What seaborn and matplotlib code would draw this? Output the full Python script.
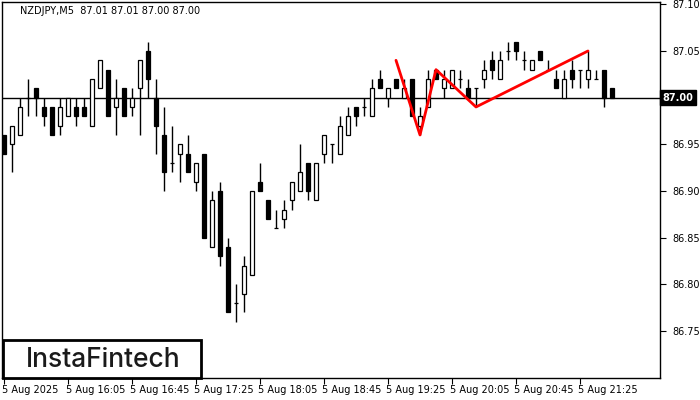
import matplotlib
matplotlib.use("Agg")
import matplotlib.pyplot as plt
import matplotlib.transforms as mtransforms
import seaborn as sns
import numpy as np
import pandas as pd

# ---- data (NZDJPY, M5) ----
opens = [86.96, 86.95, 86.96, 87.00, 87.01, 86.99, 86.99, 86.97, 86.98, 86.99,
         86.99, 86.97, 87.01, 87.03, 86.99, 87.01, 86.99, 87.01, 87.05, 87.00,
         86.96, 86.93, 86.94, 86.94, 86.91, 86.94, 86.84, 86.90, 86.84, 86.78,
         86.79, 86.81, 86.91, 86.89, 86.86, 86.87, 86.89, 86.90, 86.93, 86.89,
         86.94, 86.95, 86.94, 86.96, 86.99, 86.99, 86.98, 87.02, 87.00, 87.02,
         87.00, 87.02, 86.97, 86.99, 87.03, 87.01, 87.01, 87.02, 87.01, 87.01,
         87.02, 87.04, 87.02, 87.05, 87.06, 87.04, 87.03, 87.05, 87.03, 87.02,
         87.00, 87.03, 87.03, 87.02, 87.02, 87.03, 87.01]
highs = [86.96, 86.97, 87.00, 87.02, 87.01, 87.00, 86.99, 87.00, 87.00, 87.00,
         87.00, 87.02, 87.04, 87.03, 87.02, 87.01, 87.01, 87.04, 87.06, 87.02,
         86.99, 86.97, 86.95, 86.96, 86.93, 86.94, 86.90, 86.91, 86.85, 86.80,
         86.83, 86.90, 86.93, 86.89, 86.88, 86.89, 86.91, 86.95, 86.93, 86.93,
         86.96, 86.95, 86.98, 86.99, 86.99, 87.00, 87.02, 87.03, 87.01, 87.02,
         87.02, 87.02, 86.99, 87.03, 87.03, 87.03, 87.03, 87.03, 87.02, 87.01,
         87.04, 87.05, 87.05, 87.06, 87.06, 87.05, 87.04, 87.05, 87.04, 87.03,
         87.03, 87.04, 87.03, 87.05, 87.03, 87.03, 87.01]
lows = [86.94, 86.92, 86.96, 86.98, 86.98, 86.97, 86.96, 86.96, 86.98, 86.97,
        86.98, 86.97, 87.01, 86.98, 86.96, 86.98, 86.98, 86.96, 87.00, 86.94,
        86.90, 86.92, 86.91, 86.92, 86.90, 86.85, 86.84, 86.82, 86.77, 86.76,
        86.77, 86.81, 86.90, 86.87, 86.86, 86.86, 86.88, 86.90, 86.89, 86.89,
        86.93, 86.93, 86.94, 86.96, 86.97, 86.98, 86.98, 87.01, 86.99, 87.01,
        87.00, 86.98, 86.96, 86.99, 87.02, 87.00, 87.01, 87.01, 87.00, 86.99,
        87.01, 87.02, 87.02, 87.04, 87.04, 87.03, 87.03, 87.04, 87.03, 87.01,
        87.00, 87.01, 87.01, 87.01, 87.02, 86.99, 87.00]
closes = [86.94, 86.97, 86.99, 87.00, 87.00, 86.98, 86.96, 86.99, 87.00, 86.98,
          86.98, 87.02, 87.04, 86.98, 87.00, 86.98, 87.00, 87.04, 87.02, 86.97,
          86.92, 86.93, 86.95, 86.92, 86.93, 86.85, 86.89, 86.83, 86.77, 86.78,
          86.82, 86.90, 86.90, 86.87, 86.86, 86.88, 86.91, 86.92, 86.90, 86.93,
          86.96, 86.95, 86.97, 86.98, 86.98, 86.99, 87.01, 87.01, 87.01, 87.01,
          87.01, 86.98, 86.98, 87.02, 87.02, 87.02, 87.03, 87.02, 87.00, 87.01,
          87.03, 87.03, 87.04, 87.05, 87.05, 87.04, 87.04, 87.04, 87.03, 87.01,
          87.02, 87.02, 87.03, 87.03, 87.02, 87.00, 87.00]

# pattern line (candle index, price)
pattern_idx = [49, 52, 54, 59, 73]
pattern_price = [87.04, 86.96, 87.03, 86.99, 87.05]

ytick_vals = [86.75, 86.80, 86.85, 86.90, 86.95, 87.00, 87.05, 87.10]
xtick_idx = [0, 8, 16, 24, 32, 40, 48, 56, 64, 72]
xtick_labels = ["5 Aug 2025", "5 Aug 16:05", "5 Aug 16:45", "5 Aug 17:25",
                "5 Aug 18:05", "5 Aug 18:45", "5 Aug 19:25", "5 Aug 20:05",
                "5 Aug 20:45", "5 Aug 21:25"]
current_price = 87.00
title_text = "NZDJPY,M5  87.01 87.01 87.00 87.00"

df = pd.DataFrame({"open": opens, "high": highs, "low": lows, "close": closes})
df["idx"] = np.arange(len(df))
pat = pd.DataFrame({"idx": pattern_idx, "price": pattern_price})

sns.set_theme(style="white")
plt.rcParams["font.family"] = ["DejaVu Sans"]

fig = plt.figure(figsize=(7, 4), dpi=100)
ax = fig.add_axes([2 / 700, 22 / 400, 658 / 700, 376 / 400])

# wicks
ax.vlines(df["idx"], df["low"], df["high"], color="black", linewidth=1, zorder=2)
# bodies
up = df["close"] >= df["open"]
body_h = (df["close"] - df["open"]).abs()
body_b = df[["open", "close"]].min(axis=1)
colors = np.where(up, "white", "black")
ax.bar(df["idx"], body_h, bottom=body_b, width=0.62, color=colors,
       edgecolor="black", linewidth=0.9, zorder=3)

# current price line
ax.axhline(current_price, color="black", linewidth=1, zorder=1)

# pattern line
sns.lineplot(data=pat, x="idx", y="price", color="#ff0000", linewidth=2,
             ax=ax, zorder=5, legend=False)

ax.set_xlim(-0.25, 82)
ax.set_ylim(86.6995, 87.1025)
ax.set_xlabel("")
ax.set_ylabel("")

for s in ax.spines.values():
    s.set_visible(True)
    s.set_color("black")
    s.set_linewidth(1)

ax.yaxis.tick_right()
ax.set_yticks(ytick_vals)
ax.set_yticklabels(["" if abs(v - current_price) < 1e-9 else f"{v:.2f}" for v in ytick_vals])
ax.tick_params(axis="y", direction="out", length=4, width=0.8, colors="black",
               labelsize=7, pad=5, right=True, left=False)
ax.set_xticks(xtick_idx)
ax.set_xticklabels(xtick_labels, ha="left")
ax.tick_params(axis="x", direction="out", length=4, width=0.8, colors="black",
               labelsize=7, pad=1, bottom=True)
for lbl in ax.get_xticklabels():
    lbl.set_transform(lbl.get_transform() + mtransforms.ScaledTranslation(-2 / 100, 0, fig.dpi_scale_trans))

# current price tag
trans = mtransforms.blended_transform_factory(ax.transAxes, ax.transData)
ax.text(1.004, current_price, f"{current_price:.2f}", transform=trans, ha="left",
        va="center", fontsize=7, color="white", fontweight="bold", clip_on=False,
        bbox=dict(boxstyle="square,pad=0.25", facecolor="black", edgecolor="black"))

# title
ax.text(18 / 658, 1 - 9 / 376, title_text, transform=ax.transAxes, ha="left",
        va="center", fontsize=7, color="black")

# logo box
fig.patches.append(plt.Rectangle((3 / 700, 22 / 400), 198 / 700, 38 / 400,
                                 transform=fig.transFigure, facecolor="white",
                                 edgecolor="black", linewidth=2, zorder=10))
fig.text(103 / 700, 40 / 400, "InstaFintech", ha="center", va="center",
         fontsize=19, fontweight="medium", color="#1a1a1a",
         family=["Inter", "DejaVu Sans"], zorder=11)

fig.savefig("out.png", dpi=100, facecolor="white")
